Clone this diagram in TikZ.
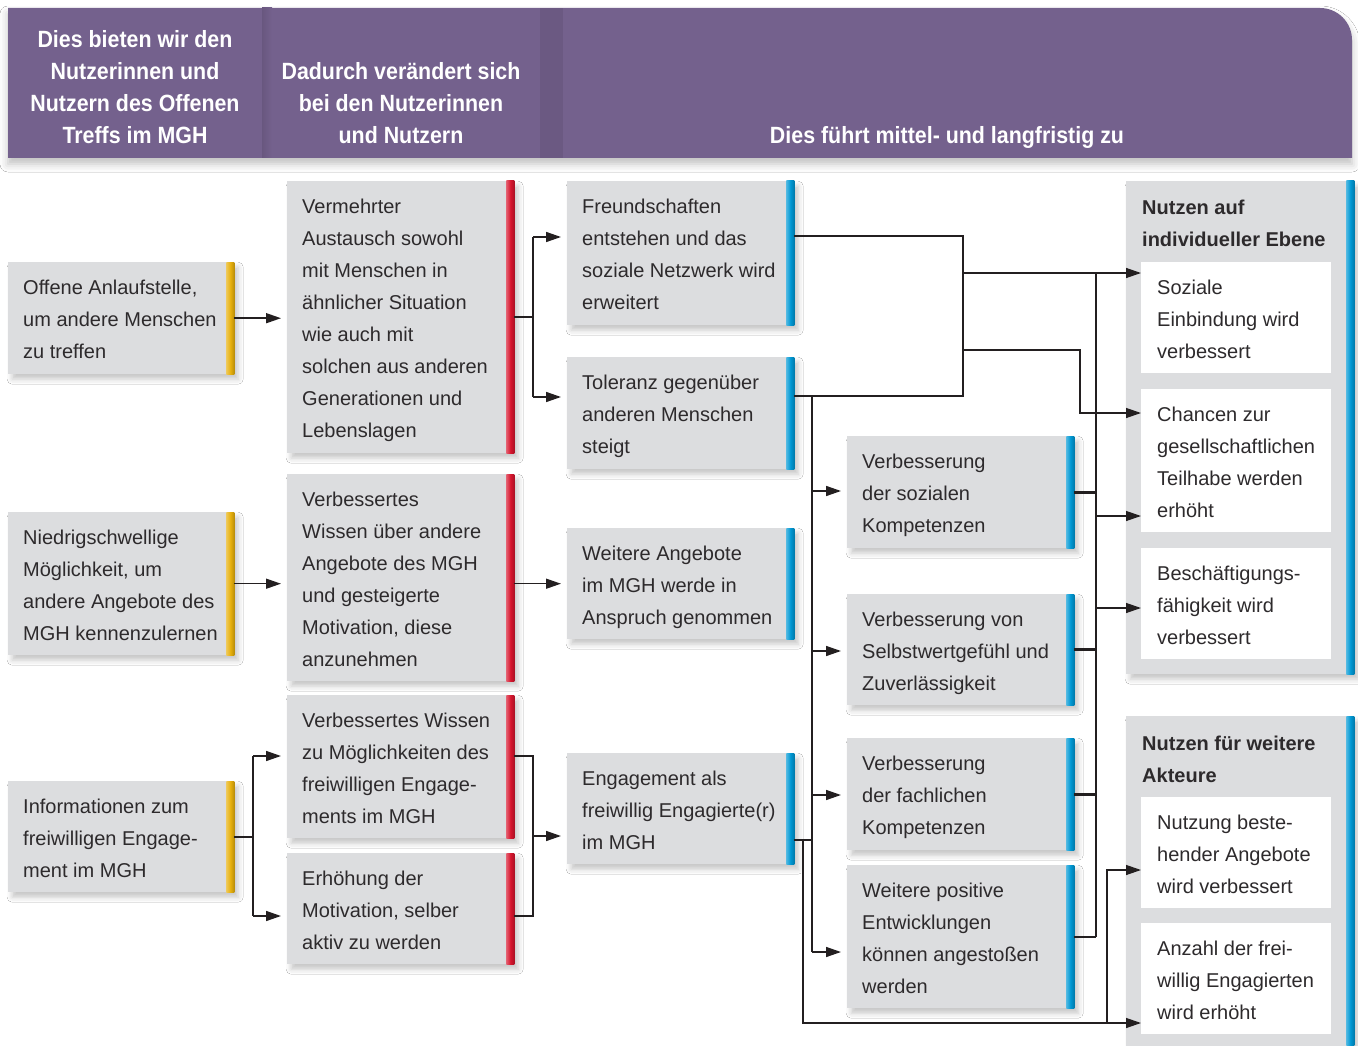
\documentclass[tikz,border=0pt]{standalone}
\usepackage{fontspec}
\setmainfont{Liberation Sans}
\newfontfamily\hdrfont[FakeStretch=0.91]{Liberation Sans}
\usetikzlibrary{arrows.meta,shadows.blur}
\definecolor{hdr}{RGB}{116,97,141}
\definecolor{boxgray}{RGB}{220,221,223}
\definecolor{txt}{RGB}{45,42,44}
\definecolor{ln}{RGB}{35,31,32}
\definecolor{ybar}{RGB}{231,176,12}
\definecolor{rbar}{RGB}{215,22,46}
\definecolor{bbar}{RGB}{0,152,212}
\newcommand\bodyfont{\fontsize{20}{32}\selectfont}
\newcommand\hfont{\hdrfont\bfseries\fontsize{23.5}{32}\selectfont}
\newcommand\boxlines[2]{\raisebox{-2pt}[\height][\depth]{\makebox[#1][l]{\begin{tabular}{@{}l@{}}#2\end{tabular}}}}
\newcommand\sidebar[2]{\shade[left color=#2!70!white, right color=#2!80!black, middle color=#2] ([xshift=-8pt]#1.north east) rectangle (#1.south east);}
\begin{document}
\begin{tikzpicture}[x=1pt, y=-1pt,
  shd/.style={blur shadow={shadow xshift=4pt, shadow yshift=-5pt, shadow blur radius=5pt, shadow opacity=22}},
  gbox/.style={shd, fill=boxgray, anchor=north west, inner xsep=15pt, inner ysep=0pt, font=\bodyfont, text=txt},
  wbox/.style={fill=white, anchor=north west, inner xsep=16pt, inner ysep=0pt, font=\bodyfont, text=txt, minimum width=190pt},
  panel/.style={shd, fill=boxgray, anchor=north west, inner sep=0pt, minimum width=228pt},
  hd/.style={text=white, font=\hfont, inner sep=0pt},
  ttl/.style={anchor=north west, inner sep=0pt, font=\bodyfont\bfseries, text=txt},
  thin/.style={draw=ln, line width=1.2pt},
  med/.style={draw=ln, line width=1.8pt},
  thk/.style={draw=ln, line width=2.8pt},
  arr/.style={draw=ln, line width=1.5pt, -{Triangle[length=15pt,width=10pt]}, shorten >=6pt},
  arrE/.style={draw=ln, line width=1.3pt, -{Triangle[length=15pt,width=10pt]}}
]
\useasboundingbox (0,0) rectangle (1358,1046);
\fill[white] (0,0) rectangle (1358,1046);

% header band
\fill[hdr, blur shadow={shadow xshift=0pt, shadow yshift=-6pt, shadow blur radius=8pt, shadow opacity=25}]
  (8,158) -- (8,8) -- (1320,8) arc[start angle=90, end angle=0, radius=32pt] -- (1352,158) -- cycle;
\shade[left color=hdr!90!black, right color=hdr] (262,8) rectangle (272,158);
\fill[hdr!92!black] (540,8) rectangle (563,158);
\node[hd] (H1) at (135,89.6) {\begin{tabular}{@{}c@{}}Dies bieten wir den\\Nutzerinnen und\\Nutzern des Offenen\\Treffs im MGH\end{tabular}};
\node[hd] (H2) at (401,105.6) {\begin{tabular}{@{}c@{}}Dadurch verändert sich\\bei den Nutzerinnen\\und Nutzern\end{tabular}};
\node[hd] (H3) at (947,137.6) {\begin{tabular}{@{}c@{}}Dies führt mittel- und langfristig zu\end{tabular}};

% column A
\node[gbox, minimum width=226pt, minimum height=112pt] (A1) at (8,262) {\boxlines{196pt}{Offene Anlaufstelle,\\um andere Menschen\\zu treffen}};
\node[gbox, minimum width=226pt, minimum height=143pt] (A2) at (8,512) {\boxlines{196pt}{Niedrigschwellige\\Möglichkeit, um\\andere Angebote des\\MGH kennenzulernen}};
\node[gbox, minimum width=226pt, minimum height=111pt] (A3) at (8,781) {\boxlines{196pt}{Informationen zum\\freiwilligen Engage-\\ment im MGH}};
\sidebar{A1}{ybar}\sidebar{A2}{ybar}\sidebar{A3}{ybar}

% column B
\node[gbox, minimum width=227pt, minimum height=272pt] (B1) at (287,181) {\boxlines{197pt}{Vermehrter\\Austausch sowohl\\mit Menschen in\\ähnlicher Situation\\wie auch mit\\solchen aus anderen\\Generationen und\\Lebenslagen}};
\node[gbox, minimum width=227pt, minimum height=207pt] (B2) at (287,474) {\boxlines{197pt}{Verbessertes\\Wissen über andere\\Angebote des MGH\\und gesteigerte\\Motivation, diese\\anzunehmen}};
\node[gbox, minimum width=227pt, minimum height=143pt] (B3) at (287,695) {\boxlines{197pt}{Verbessertes Wissen\\zu Möglichkeiten des\\freiwilligen Engage-\\ments im MGH}};
\node[gbox, minimum width=227pt, minimum height=111pt] (B4) at (287,853) {\boxlines{197pt}{Erhöhung der\\Motivation, selber\\aktiv zu werden}};
\sidebar{B1}{rbar}\sidebar{B2}{rbar}\sidebar{B3}{rbar}\sidebar{B4}{rbar}

% column C
\node[gbox, minimum width=227pt, minimum height=144pt] (C1) at (567,181) {\boxlines{197pt}{Freundschaften\\entstehen und das\\soziale Netzwerk wird\\erweitert}};
\node[gbox, minimum width=227pt, minimum height=112pt] (C2) at (567,357) {\boxlines{197pt}{Toleranz gegenüber\\anderen Menschen\\steigt}};
\node[gbox, minimum width=227pt, minimum height=111pt] (C3) at (567,528) {\boxlines{197pt}{Weitere Angebote\\im MGH werde in\\Anspruch genommen}};
\node[gbox, minimum width=227pt, minimum height=111pt] (C4) at (567,753) {\boxlines{197pt}{Engagement als\\freiwillig Engagierte(r)\\im MGH}};
\sidebar{C1}{bbar}\sidebar{C2}{bbar}\sidebar{C3}{bbar}\sidebar{C4}{bbar}

% column D
\node[gbox, minimum width=227pt, minimum height=112pt] (D1) at (847,436) {\boxlines{197pt}{Verbesserung\\der sozialen\\Kompetenzen}};
\node[gbox, minimum width=227pt, minimum height=111pt] (D2) at (847,594) {\boxlines{197pt}{Verbesserung von\\Selbstwertgefühl und\\Zuverlässigkeit}};
\node[gbox, minimum width=227pt, minimum height=112pt] (D3) at (847,738) {\boxlines{197pt}{Verbesserung\\der fachlichen\\Kompetenzen}};
\node[gbox, minimum width=227pt, minimum height=143pt] (D4) at (847,865) {\boxlines{197pt}{Weitere positive\\Entwicklungen\\können angestoßen\\werden}};
\sidebar{D1}{bbar}\sidebar{D2}{bbar}\sidebar{D3}{bbar}\sidebar{D4}{bbar}

% column E panels
\node[panel, minimum height=493pt] (P1) at (1126,181) {};
\node[panel, minimum height=340pt] (P2) at (1126,716) {};
\sidebar{P1}{bbar}\sidebar{P2}{bbar}
\node[ttl] (T1) at (1142,191.6) {\begin{tabular}{@{}l@{}}Nutzen auf\\individueller Ebene\end{tabular}};
\node[ttl] (T2) at (1142,727.6) {\begin{tabular}{@{}l@{}}Nutzen für weitere\\Akteure\end{tabular}};
\node[wbox, minimum height=111pt] (E1) at (1141,262) {\boxlines{158pt}{Soziale\\Einbindung wird\\verbessert}};
\node[wbox, minimum height=143pt] (E2) at (1141,389) {\boxlines{158pt}{Chancen zur\\gesellschaftlichen\\Teilhabe werden\\erhöht}};
\node[wbox, minimum height=111pt] (E3) at (1141,548) {\boxlines{158pt}{Beschäftigungs-\\fähigkeit wird\\verbessert}};
\node[wbox, minimum height=111pt] (E4) at (1141,797) {\boxlines{158pt}{Nutzung beste-\\hender Angebote\\wird verbessert}};
\node[wbox, minimum height=111pt] (E5) at (1141,923) {\boxlines{158pt}{Anzahl der frei-\\willig Engagierten\\wird erhöht}};

% ---- connectors ----
% A1 -> B1 -> C1, C2
\draw[arr] (A1.east) -- (A1.east -| B1.west);
\coordinate (j1a) at (533,237);
\coordinate (j1b) at (533,397);
\draw[med] (B1.east) -- (B1.east -| j1a);
\draw[thin] (j1a) -- (j1b);
\draw[arr] (j1a) -- (j1a -| C1.west);
\draw[arr] (j1b) -- (j1b -| C2.west);
% A2 -> B2 -> C3
\draw[arr] (A2.east) -- (A2.east -| B2.west);
\draw[arr] (B2.east |- A2.east) -- (A2.east -| C3.west);
% A3 -> B3, B4
\coordinate (j3a) at (253,756);
\coordinate (j3b) at (253,916);
\draw[med] (A3.east) -- (A3.east -| j3a);
\draw[thin] (j3a) -- (j3b);
\draw[arr] (j3a) -- (j3a -| B3.west);
\draw[arr] (j3b) -- (j3b -| B4.west);
% B3, B4 -> C4
\coordinate (j4a) at (533,756);
\coordinate (j4b) at (533,916);
\coordinate (j4m) at (533,836);
\draw[thin] (j4a -| B3.east) -- (j4a) -- (j4b) -- (j4b -| B4.east);
\draw[arr] (j4m) -- (j4m -| C4.west);
\draw[thk] (j4m) ++(0,6) -- ++(0,20);
% C1, C2 -> E1, E2
\coordinate (k1) at (963,236);
\coordinate (k2) at (963,396);
\coordinate (k3) at (963,273);
\coordinate (k4) at (963,350);
\coordinate (k5) at (1080,350);
\coordinate (k6) at (1080,413);
\draw[thin] (k1 -| C1.east) -- (k1) -- (k2) -- (k2 -| C2.east);
\draw[thk] (k1 -| C1.east) -- ++(22,0);
\draw[thk] (k2 -| C2.east) -- ++(18,0);
\draw[arrE] (k3) -- (k3 -| E1.west);
\draw[arrE] (k4) -- (k5) -- (k6) -- (k6 -| E2.west);
% C2 -> D1..D4
\coordinate (m0) at (812,396);
\coordinate (m1) at (812,491);
\coordinate (m2) at (812,651);
\coordinate (m3) at (812,795);
\coordinate (m4) at (812,952);
\draw[thk] (m0) -- (m1);
\draw[thin] (m1) -- (m4);
\draw[arr] (m1) -- (m1 -| D1.west);
\draw[arr] (m2) -- (m2 -| D2.west);
\draw[arr] (m3) -- (m3 -| D3.west);
\draw[arr] (m4) -- (m4 -| D4.west);
% C4 -> D column and E4, E5
\coordinate (n1) at (812,840);
\coordinate (n2) at (803,840);
\coordinate (n3) at (803,1023);
\coordinate (n4) at (1107,1023);
\coordinate (n5) at (1107,870);
\draw[thin] (n1 -| C4.east) -- (n1);
\draw[thk] (n2) -- ++(0,47);
\draw[arrE] (n2) -- (n3) -- (n3 -| E5.west);
\draw[draw=ln, line width=2.4pt] (n3) ++(36,0) -- ++(257,0);
\draw[arrE] (n4) -- (n5) -- (n5 -| E4.west);
% D1..D4 -> E1, E2, E3
\coordinate (q0) at (1096,273);
\coordinate (q4) at (1096,937);
\coordinate (q5) at (1096,516);
\coordinate (q6) at (1096,608);
\draw[thin] (q0) -- (q4);
\draw[thk] (D1.east) -- (D1.east -| q0);
\draw[thk] (D2.east) -- (D2.east -| q0);
\draw[thk] (D3.east) -- (D3.east -| q0);
\draw[med] (D4.east) -- (D4.east -| q0);
\draw[thk] (q0) ++(0,575) -- ++(0,24);
\draw[arrE] (q5) -- (q5 -| E2.west);
\draw[arrE] (q6) -- (q6 -| E3.west);
\end{tikzpicture}
\end{document}
